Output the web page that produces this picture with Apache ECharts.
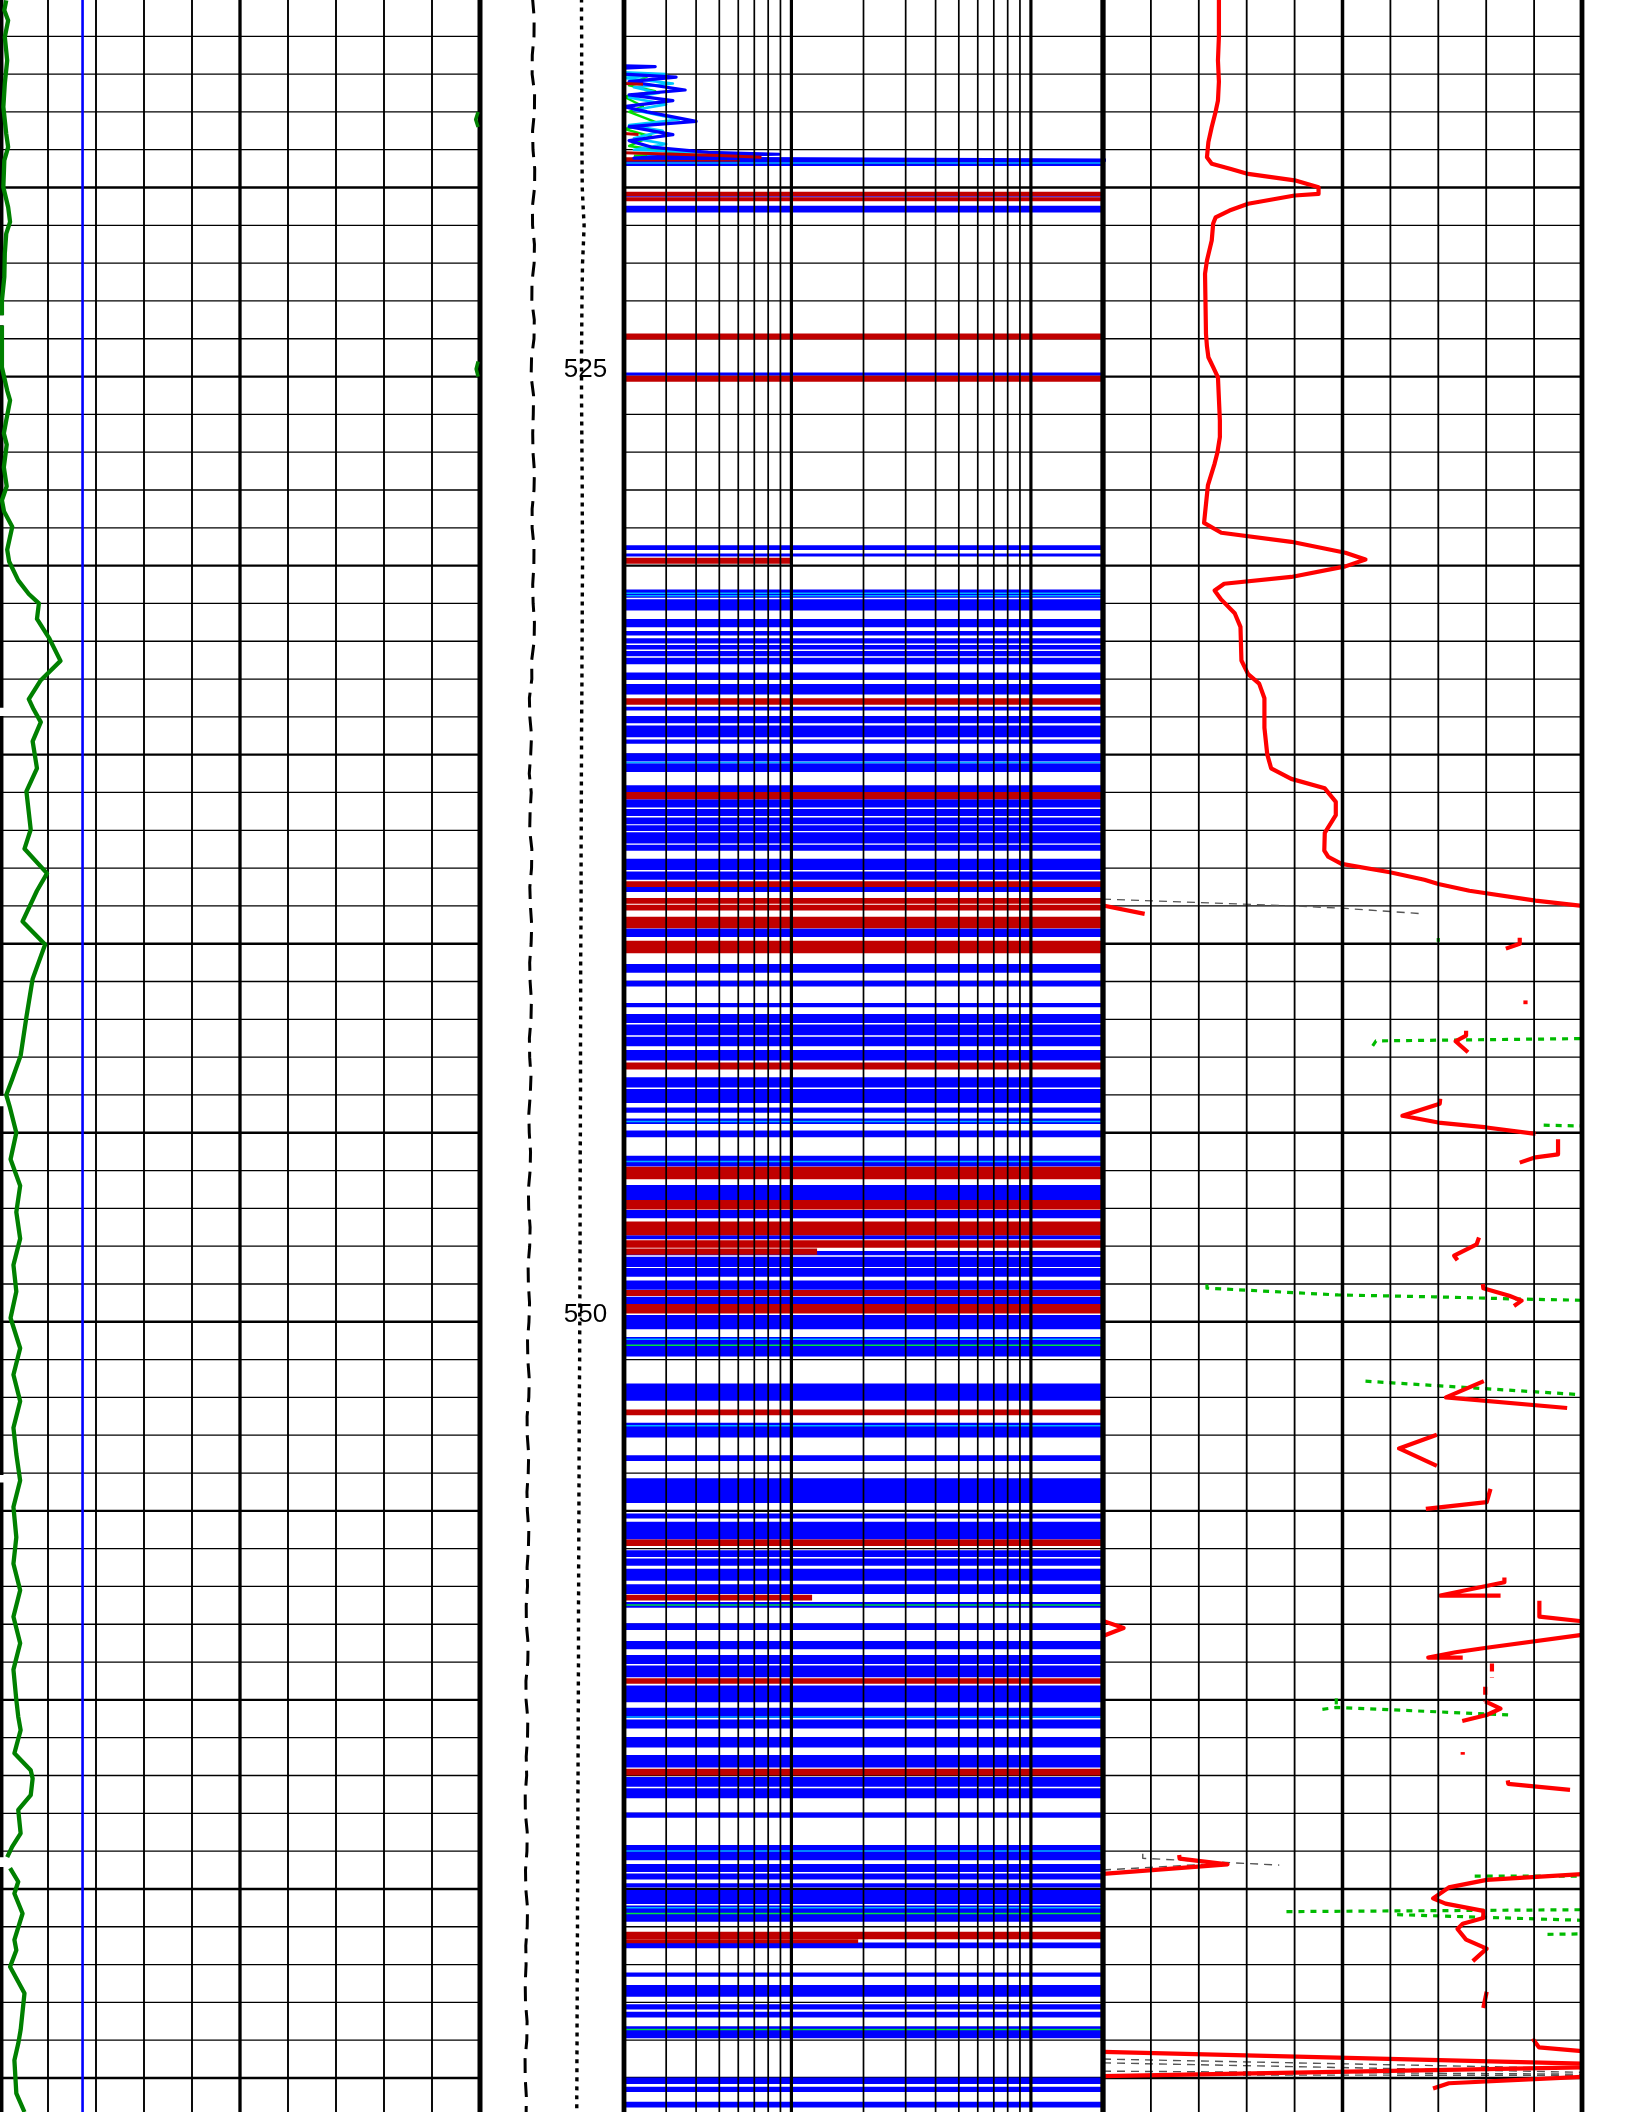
<!DOCTYPE html>
<html><head><meta charset="utf-8">
<script src="https://cdn.jsdelivr.net/npm/echarts@6/dist/echarts.min.js"></script>
<style>html,body{margin:0;padding:0;background:#fff}#c{width:1632px;height:2112px}</style>
</head><body><div id="c"></div>
<script>
// ---------------- DATA ----------------
const DEPTH_TOP = 515.04, DEPTH_BOTTOM = 570.90;
const depthLabels = [525, 550];
const gridDepths = [516,517,518,519,520,521,522,523,524,525,526,527,528,529,530,531,532,533,534,535,536,537,538,539,540,541,542,543,544,545,546,547,548,549,550,551,552,553,554,555,556,557,558,559,560,561,562,563,564,565,566,567,568,569,570];
const linTicks = [0,10,20,30,40,50,60,70,80,90,100];
const logTicks = [2,3,4,5,6,7,8,9,10,20,30,40,50,60,70,80,90,100,200];

// Track 1 : green curve (segments), blue constant line, black edge curve (segments)
const track1Green = [
 [[1.3,515.05],[0.9,515.31],[1.7,515.58],[1.0,516.02],[1.5,516.64],[1.0,517.25],[0.7,517.87],[1.3,518.58],[1.7,518.93],[0.9,519.28],[0.7,519.99],[1.7,520.52],[2.1,520.91],[1.3,521.22],[1.0,521.75],[0.9,522.37],[0.4,522.99],[0.4,523.38]],
 [[0.4,523.65],[0.4,524.75],[1.5,525.37],[2.1,525.63],[1.3,526.16],[0.8,526.5],[1.4,526.8],[0.8,527.4],[1.4,527.9],[0.4,528.27],[0.85,528.57],[2.55,528.97],[1.5,529.58],[1.9,529.89],[3.8,530.39],[6.0,530.75],[8.1,531.0],[7.7,531.41],[10.2,531.91],[12.6,532.52],[8.5,533.03],[6.0,533.53],[7.0,533.8],[8.5,534.14],[6.8,534.65],[7.7,535.36],[5.5,535.97],[6.4,536.98],[5.1,537.49],[9.8,538.14],[7.7,538.6],[4.7,539.41],[9.4,540.02],[6.8,540.93],[5.5,541.94],[4.3,542.96],[2.5,543.6],[1.3,544.0],[2.0,544.3],[3.4,545.0],[2.2,545.7],[4.2,546.4],[3.4,547.1],[4.2,547.8],[2.8,548.5],[3.4,549.2],[2.2,549.9],[4.2,550.7],[2.8,551.4],[4.2,552.1],[2.8,552.8],[3.4,553.5],[4.2,554.2],[2.8,554.9],[3.4,555.7],[2.8,556.4],[4.2,557.1],[2.8,557.8],[4.2,558.5],[2.8,559.2],[3.4,560.0],[3.8,560.44],[4.3,560.8],[3.0,561.41],[6.4,561.86],[6.8,562.08],[6.4,562.52],[3.8,562.91],[4.3,563.53],[2.55,563.88],[1.5,564.16]],
 [[2.1,564.45],[3.8,564.81],[3.0,565.12],[4.7,565.65],[3.0,566.35],[3.4,566.62],[2.1,567.06],[5.1,567.76],[4.3,568.73],[3.8,569.09],[3.0,569.53],[3.4,570.41],[5.1,570.9]]
];
const track1GreenEdge = [[[99.6,518.0],[99.1,518.2],[99.6,518.4]],[[99.6,524.6],[99.2,524.8],[99.6,525.0]]];
const track1Blue = [[17.2,515.04],[17.2,570.90]];
const track1Edge = [[[0.3,515.04],[0.3,523.38]],[[0.3,523.64],[0.3,533.76]],[[0.3,533.98],[0.3,544.02]],[[0.3,544.30],[0.3,554.05]],[[0.3,554.25],[0.3,564.16]],[[0.3,564.42],[0.3,570.90]]];

// Depth track curves
const depthCurveDepths = [515,515.5,516,516.5,517,517.5,518,518.5,519,519.5,520,520.5,521,521.5,522,522.5,523,523.5,524,524.5,525,525.5,526,526.5,527,527.5,528,528.5,529,529.5,530,530.5,531,531.5,532,532.5,533,533.5,534,534.5,535,535.5,536,536.5,537,537.5,538,538.5,539,539.5,540,540.5,541,541.5,542,542.5,543,543.5,544,544.5,545,545.5,546,546.5,547,547.5,548,548.5,549,549.5,550,550.5,551,551.5,552,552.5,553,553.5,554,554.5,555,555.5,556,556.5,557,557.5,558,558.5,559,559.5,560,560.5,561,561.5,562,562.5,563,563.5,564,564.5,565,565.5,566,566.5,567,567.5,568,568.5,569,569.5,570,570.5,571];
const longDashValues = [36.5,37.6,37.5,36.3,36.2,37.9,37.8,36.5,36.8,38.0,37.9,36.4,36.5,37.8,37.6,36.1,36.0,37.7,37.5,35.8,35.5,37.2,37.0,36.6,36.8,37.8,37.5,36.2,36.2,37.5,37.4,36.6,36.9,37.8,37.6,35.9,36.0,34.3,34.6,35.8,35.2,34.2,35.6,34.8,34.5,36.0,35.8,34.6,35.0,35.9,35.5,34.5,34.8,35.7,35.4,34.3,34.5,35.4,34.9,33.9,34.2,35.1,34.8,33.6,33.8,34.8,34.5,33.4,33.6,34.4,34.0,33.0,33.2,34.2,33.9,32.7,32.8,33.8,33.5,32.6,32.9,33.9,33.6,32.7,33.0,32.1,32.2,33.4,33.2,31.9,32.0,33.2,33.0,32.1,32.4,31.4,31.5,32.8,32.6,31.6,31.8,33.0,32.8,31.8,32.0,31.4,31.6,32.7,32.5,31.3,31.4,32.2,32.0];
const dottedValues = [70.5,70.5,70.6,70.6,70.6,70.7,70.7,70.8,70.8,70.9,71.0,71.6,72.3,71.8,71.2,71.0,70.8,70.7,70.6,70.5,70.5,70.5,70.6,70.7,70.8,70.9,71.0,71.0,71.1,71.2,71.2,71.1,71.0,71.0,70.9,70.8,70.8,70.7,70.6,70.5,70.5,70.4,70.4,70.3,70.3,70.2,70.2,70.2,70.2,70.1,70.0,69.9,69.9,69.9,69.9,69.8,69.8,69.8,69.8,69.7,69.7,69.6,69.6,69.5,69.5,69.5,69.5,69.4,69.4,69.3,69.3,69.2,69.2,69.1,69.0,68.9,68.9,68.8,68.8,68.7,68.7,68.6,68.6,68.5,68.5,68.4,68.4,68.4,68.4,68.3,68.3,68.2,68.2,68.1,68.1,68.0,68.0,67.9,67.9,67.8,67.8,67.7,67.7,67.6,67.6,67.5,67.5,67.4,67.4,67.3,67.3,67.2,67.2];

// Track 2 (log 2..200): wiggles at the top + full-width bands
const t2BlueWiggle = [[2.0,516.78],[2.7,516.80],[2.0,516.84],[2.0,517.00],[3.3,517.08],[2.1,517.20],[3.6,517.42],[2.1,517.55],[3.2,517.70],[2.0,517.86],[2.5,518.00],[4.0,518.25],[2.1,518.39],[3.2,518.60],[2.1,518.76],[2.6,518.93],[4.5,519.07],[8.9,519.12],[3.0,519.17],[2.2,519.22],[300,519.28]];
const t2CyanWiggle = [[2.0,516.95],[3.0,517.00],[2.0,517.10],[3.2,517.25],[2.2,517.35],[2.8,517.50],[2.1,517.62],[3.0,517.80],[2.2,517.95],[3.4,518.20],[2.1,518.35],[2.9,518.50],[2.2,518.70],[3.0,518.85],[2.2,519.00],[6.5,519.13],[2.5,519.18]];
const t2GreenWiggle = [[2.0,517.02],[2.5,517.06],[2.1,517.30],[2.7,517.45],[2.0,517.60],[2.4,517.85],[2.1,518.00],[2.8,518.30],[2.0,518.45],[2.6,518.65],[2.1,518.90],[3.5,519.10],[2.2,519.16]];
const t2RedWiggle = [[[2.0,517.25],[2.4,517.27]],[[2.0,518.57],[2.3,518.60]],[[2.0,519.08],[5.0,519.15],[7.5,519.20]]];
const blueBands = [[519.27,519.43],[520.23,520.26],[520.48,520.66],[524.89,524.97],[529.46,529.59],[529.68,529.76],[530.63,530.85],[530.89,531.19],[531.41,531.63],[531.73,531.85],[531.92,532.06],[532.10,532.22],[532.26,532.40],[532.44,532.61],[532.83,533.02],[533.13,533.41],[533.73,533.83],[533.98,534.17],[534.23,534.54],[534.60,534.71],[534.96,535.18],[535.23,535.46],[535.81,535.99],[536.18,536.40],[536.44,536.62],[536.66,536.84],[536.87,537.02],[537.05,537.35],[537.38,537.54],[537.75,538.05],[538.09,538.31],[538.50,538.63],[539.60,539.82],[540.54,540.77],[540.98,541.13],[541.57,541.68],[541.86,542.10],[542.14,542.42],[542.46,542.71],[542.81,543.09],[543.53,543.80],[543.84,544.21],[544.33,544.47],[544.62,544.77],[544.94,545.12],[545.61,545.89],[546.38,546.78],[547.04,547.26],[547.71,547.82],[548.13,548.24],[548.28,548.55],[548.58,548.81],[548.91,549.15],[549.34,549.53],[549.82,550.20],[550.40,550.92],[551.63,552.09],[552.67,553.06],[553.53,553.68],[554.14,554.79],[555.07,555.20],[555.29,555.76],[556.04,556.22],[556.26,556.45],[556.53,556.85],[556.94,557.20],[557.41,557.56],[557.97,558.15],[558.44,558.66],[558.81,559.05],[559.09,559.40],[559.62,560.06],[560.21,560.48],[560.52,560.76],[560.98,561.26],[561.46,561.79],[562.04,562.30],[562.34,562.60],[562.98,563.12],[563.84,564.24],[564.34,564.55],[564.59,564.75],[564.85,564.96],[565.03,565.40],[565.44,565.87],[566.42,566.57],[567.21,567.32],[567.54,567.85],[568.05,568.19],[568.25,568.40],[568.63,568.95],[569.99,570.16],[570.23,570.37],[570.63,570.78]];
const redBands = [[519.20,519.31,6.1],[520.11,520.23,200],[520.26,520.36,200],[523.86,524.02,200],[524.98,525.14,200],[529.79,529.95,10.1],[533.51,533.68,200],[535.99,536.18,200],[538.35,538.50,200],[538.79,538.94,200],[538.97,539.12,200],[539.29,539.59,200],[539.92,540.25,200],[543.14,543.33,200],[545.90,546.23,200],[546.78,547.03,200],[547.35,547.71,200],[547.84,548.04,200],[548.06,548.23,12.8],[549.16,549.32,200],[549.53,549.78,200],[552.32,552.47,200],[555.76,555.93,200],[557.22,557.37,12.2],[559.43,559.57,200],[561.82,562.00,200],[566.13,566.33,200],[566.33,566.44,19]];
const cyanLines = [519.35,530.73,530.80,535.21,544.70,545.76,550.46,552.75,560.45,564.00,565.50];
const greenLines = [550.62,557.49,565.65,568.72];

// Track 3 (0..100 linear, wrapped): red curve segments, green dotted, grey dashed
const track3Red = [
 [[24.2,515.04],[24.2,516.0],[24.0,516.64],[24.2,517.2],[24.0,517.7],[23.5,518.0],[22.7,518.40],[22.0,518.8],[21.7,519.20],[22.7,519.37],[26.7,519.51],[30.3,519.64],[40,519.81],[45,519.99],[45,520.17],[40,520.21],[30.3,520.43],[26.4,520.61],[23.5,520.79],[23.0,520.95],[22.7,521.40],[21.7,521.93],[21.3,522.28],[21.5,523.87],[21.7,524.2],[22.0,524.49],[23.0,524.75],[24.0,525.02],[24.4,526.16],[24.4,526.6],[23.9,527.0],[23.3,527.3],[21.9,527.88],[21.1,528.87],[24.7,529.13],[39.3,529.37],[50.6,529.66],[54.8,529.84],[50.6,530.02],[39.3,530.30],[25.3,530.48],[23.3,530.66],[24.7,530.90],[27.5,531.26],[28.7,531.62],[28.9,532.51],[30.3,532.87],[32.6,533.12],[33.7,533.51],[33.7,534.29],[34.3,535.0],[35.1,535.36],[39.3,535.64],[46.3,535.89],[48.6,536.25],[48.6,536.60],[46.3,537.07],[46.2,537.54],[47.0,537.7],[49.8,537.89],[59.9,538.11],[67.1,538.31],[70,538.42],[76.5,538.6],[90.3,538.86],[100,539.0]],
 [[0,538.99],[8.7,539.21]],
 [[87,539.84],[87,540.0],[84.1,540.13]],
 [[88.2,541.5],[88.2,541.6]],
 [[75.8,542.30],[75.8,542.43],[73.6,542.58],[76.2,542.87]],
 [[70.4,544.1],[70.3,544.23],[62.5,544.55],[70,544.73],[80.1,544.86],[90.3,545.03]],
 [[95,545.17],[95,545.57],[90.3,545.65],[87,545.79]],
 [[78.5,547.77],[78,547.95],[73.3,548.25],[74,548.37]],
 [[79.3,549.0],[79.4,549.11],[84.8,549.31],[87.4,549.44],[85.8,549.58]],
 [[79.5,551.57],[71.6,552.0],[96.9,552.28]],
 [[69.7,552.99],[61.8,553.35],[69.7,553.81]],
 [[80.9,554.42],[80.1,554.77],[67.4,554.95]],
 [[83.8,556.76],[83.8,556.89],[70.4,557.24],[83,557.24]],
 [[0,557.91],[4.3,558.1],[0,558.31]],
 [[91.1,557.38],[91.1,557.80],[100,557.92]],
 [[100,558.28],[80.1,558.62],[73.6,558.74],[67.9,558.88],[75.1,558.88]],
 [[79.8,560.04],[83,560.23],[80.1,560.40],[75,560.56]],
 [[75.1,561.38],[75.1,561.45]],
 [[84.5,562.13],[84.6,562.22],[97.5,562.38]],
 [[15.9,564.1],[16,564.2],[26,564.35],[0,564.6]],
 [[100,564.61],[80.1,564.76],[72.2,564.96],[68.9,565.25],[71.5,565.39],[79.4,565.58],[79.4,565.77],[75.1,565.92],[74,566.06],[75.8,566.34],[80.1,566.58],[77.2,566.91]],
 [[80.1,567.72],[79.4,568.15]],
 [[89.7,568.96],[91,569.19],[100,569.29]],
 [[0,569.31],[100,569.62]],
 [[0,569.95],[100,569.72]],
 [[100,569.97],[72.2,570.14],[68.9,570.28]]
];
const track3RedDashed = [[[81.2,559.04],[81.2,559.42]],[[79.8,559.65],[79.8,560.04]]];
const track3Green = [
 [[70,539.85],[70,539.95]],
 [[56.3,542.70],[57.0,542.57],[100,542.51]],
 [[92,544.8],[100,544.82]],
 [[21.7,549.01],[21.7,549.11],[49.1,549.29],[69.3,549.34],[87.4,549.40],[100,549.43]],
 [[54.8,551.57],[100,551.93]],
 [[48.7,559.96],[48.7,560.20]],
 [[45.8,560.25],[48.7,560.20],[85.2,560.40]],
 [[77.6,564.66],[100,564.66]],
 [[38.3,565.60],[100,565.55]],
 [[61.4,565.68],[100,565.83]],
 [[92.8,566.20],[100,566.19]]
];
const track3Grey = [
 [[0,538.82],[39.7,539.0],[49.8,539.06],[67.1,539.21]],
 [[8.3,564.07],[8.3,564.19],[36.8,564.37]],
 [[0,564.50],[21,564.35]],
 [[0,569.50],[100,569.75]],
 [[0,569.60],[100,569.85]],
 [[0,569.82],[100,569.90]],
 [[0,569.92],[100,569.93]]
];

// ---------------- CHART ----------------
const chart = echarts.init(document.getElementById('c'), null, {renderer:'canvas'});
const series = [];
function lineS(gi, data, color, width, type, z){
  series.push({type:'line', xAxisIndex:gi, yAxisIndex:gi, data:data, showSymbol:false, symbol:'none',
    silent:true, animation:false, z:z||5, clip:true,
    lineStyle:{color:color, width:width, type:type||'solid', cap:'butt', join:'round'}});
}
function hLines(gi, x0, x1){
  series.push({type:'custom', xAxisIndex:gi, yAxisIndex:gi, clip:false, silent:true, z:1, animation:false,
    data: gridDepths.map(d=>[x0,d]),
    renderItem:(p,api)=>{const d=api.value(1); const a=api.coord([x0,d]), b=api.coord([x1,d]);
      return {type:'line', shape:{x1:a[0],y1:a[1],x2:b[0],y2:b[1]}, style:{stroke:'#000', lineWidth:(d%5===0)?2.4:1.3}};}});
}
function vLines(gi, ticks, majors, borders, minorW, majorW, borderW, z){
  series.push({type:'custom', xAxisIndex:gi, yAxisIndex:gi, clip:false, silent:true, z:z||2, animation:false,
    data: ticks.map(t=>[t,DEPTH_TOP]),
    renderItem:(p,api)=>{const t=api.value(0); const a=api.coord([t,DEPTH_TOP]), b=api.coord([t,DEPTH_BOTTOM]);
      let w=minorW; if(majors.indexOf(t)>=0) w=majorW; if(borders.indexOf(t)>=0) w=borderW;
      return {type:'line', shape:{x1:a[0],y1:a[1],x2:b[0],y2:b[1]}, style:{stroke:'#000', lineWidth:w}};}});
}
function bands(list, color, z){
  series.push({type:'custom', xAxisIndex:2, yAxisIndex:2, clip:true, silent:true, z:z, animation:false,
    dimensions:['xmax','top','bottom'], encode:{x:0, y:[1,2]},
    data: list.map(b=>[b.length>2?b[2]:200, b[0], b[1]]),
    renderItem:(p,api)=>{const a=api.coord([2,api.value(1)]), b=api.coord([api.value(0),api.value(2)]);
      return {type:'rect', shape:{x:a[0], y:a[1], width:b[0]-a[0], height:Math.max(1,b[1]-a[1])}, style:{fill:color}};}});
}
function thinLines(list, color, z){
  series.push({type:'custom', xAxisIndex:2, yAxisIndex:2, clip:true, silent:true, z:z, animation:false,
    data: list.map(d=>[2,d]),
    renderItem:(p,api)=>{const d=api.value(1); const a=api.coord([2,d]), b=api.coord([200,d]);
      return {type:'line', shape:{x1:a[0],y1:a[1],x2:b[0],y2:b[1]}, style:{stroke:color, lineWidth:1.5}};}});
}

// grid lines
hLines(0, 0, 100); hLines(2, 2, 200); hLines(3, 0, 100);
vLines(0, linTicks.slice(1), [50], [100], 1.9, 3.3, 5);
vLines(2, logTicks, [10,100], [2,200], 1.7, 3.2, 4.8, 8);
vLines(3, linTicks, [50], [0,100], 1.8, 3.5, 4.8, 8);

// track 1
track1Edge.forEach(s=>lineS(0, s, '#000', 4, 'solid', 4));
lineS(0, track1Blue, '#0000FF', 2.6, 'solid', 5);
track1Green.forEach(s=>lineS(0, s, '#008000', 4.3, 'solid', 6));
track1GreenEdge.forEach(s=>lineS(0, s, '#008000', 3.5, 'solid', 6));

// depth track
lineS(1, depthCurveDepths.map((d,i)=>[longDashValues[i], d]), '#000', 3, [15,9], 5);
lineS(1, depthCurveDepths.map((d,i)=>[dottedValues[i], d]), '#000', 3.4, [4,5], 5);
series.push({type:'custom', xAxisIndex:1, yAxisIndex:1, clip:false, silent:true, z:7, animation:false,
  data: depthLabels.map(d=>[73.3,d]),
  renderItem:(p,api)=>{const d=api.value(1); const a=api.coord([api.value(0),d]);
    return {type:'text', x:a[0], y:a[1]+6, style:{text:String(d), fontSize:26, fontFamily:'Liberation Sans, Arial, sans-serif', fill:'#000', align:'center', verticalAlign:'bottom'}};}});

// track 2
bands(blueBands, '#0000FF', 3);
thinLines(cyanLines, '#00B0FF', 4);
thinLines(greenLines, '#00E040', 4);
bands(redBands, '#C00000', 5);
lineS(2, t2GreenWiggle, '#00E000', 2.4, 'solid', 6);
lineS(2, t2CyanWiggle, '#00C8FF', 2.6, 'solid', 6);
lineS(2, t2BlueWiggle, '#0000FF', 3.2, 'solid', 6);
t2RedWiggle.forEach(s=>lineS(2, s, '#C00000', 3, 'solid', 7));

// track 3
track3Grey.forEach(s=>lineS(3, s, '#555', 1.4, [8,6], 5));
track3Green.forEach(s=>lineS(3, s, '#00BB00', 3.2, [6,6], 6));
track3Red.forEach(s=>lineS(3, s, '#FF0000', 4.2, 'solid', 7));
track3RedDashed.forEach(s=>lineS(3, s, '#FF0000', 4.2, [8,6], 7));

const grids = [
  {left:0, top:0, width:480, height:2112},
  {left:480, top:0, width:144, height:2112},
  {left:624, top:0, width:479, height:2112},
  {left:1103, top:0, width:479, height:2112}
];
const yAxes = grids.map((g,i)=>({type:'value', gridIndex:i, min:DEPTH_TOP, max:DEPTH_BOTTOM, inverse:true, show:false}));
const xAxes = [
  {type:'value', gridIndex:0, min:0, max:100, show:false},
  {type:'value', gridIndex:1, min:0, max:100, show:false},
  {type:'log', gridIndex:2, min:2, max:200, logBase:10, show:false},
  {type:'value', gridIndex:3, min:0, max:100, show:false}
];
chart.setOption({animation:false, backgroundColor:'#fff', grid:grids, xAxis:xAxes, yAxis:yAxes, series:series});
</script></body></html>
